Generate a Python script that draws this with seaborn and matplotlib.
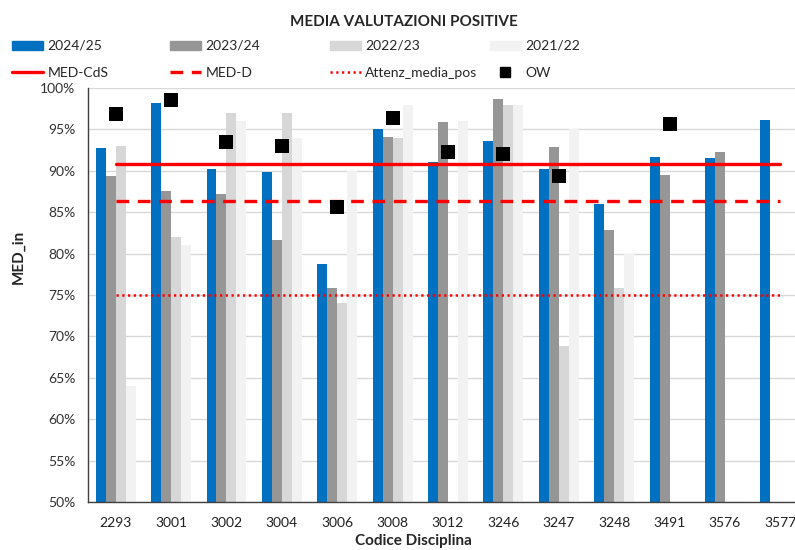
import numpy as np
import pandas as pd
import matplotlib
matplotlib.use("Agg")
import matplotlib.pyplot as plt
from matplotlib.lines import Line2D
from matplotlib.patches import Patch
import seaborn as sns

nan = np.nan
categories = ['2293', '3001', '3002', '3004', '3006', '3008', '3012',
              '3246', '3247', '3248', '3491', '3576', '3577']
series_names = ['2024/25', '2023/24', '2022/23', '2021/22']
s2425 = [92.8, 98.2, 90.2, 89.8, 78.7, 95.1, 91.1, 93.6, 90.2, 86.0, 91.7, 91.6, 96.1]
s2324 = [89.4, 87.6, 87.2, 81.6, 75.8, 94.1, 95.9, 98.7, 92.9, 82.8, 89.5, 92.3, nan]
s2223 = [93.0, 82.0, 97.0, 97.0, 74.0, 94.0, nan, 98.0, 68.9, 75.9, nan, nan, nan]
s2122 = [64.0, 81.0, 96.0, 94.0, 90.0, 98.0, 96.0, 98.0, 95.0, 80.0, nan, nan, nan]
ow = [96.8, 98.5, 93.5, 93.0, 85.6, 96.4, 92.3, 92.0, 89.4, nan, 95.7, nan, nan]
med_cds = 90.8
med_d = 86.3
attenz = 75.0
yticks = list(range(50, 101, 5))

colors = ['#0070C0', '#979696', '#D8D7D7', '#F2F2F2']

sns.set_style("white")
plt.rcParams['font.family'] = ['Lato', 'DejaVu Sans']

rows = []
for name, vals in zip(series_names, [s2425, s2324, s2223, s2122]):
    for c, v in zip(categories, vals):
        rows.append({'cat': c, 'val': v, 'series': name})
df = pd.DataFrame(rows).dropna()

fig = plt.figure(figsize=(7.95, 5.5), dpi=100)
W, H = 795, 550
ax = fig.add_axes([88 / W, 1 - 502 / H, (808 - 88) / W, (502 - 88) / H])

sns.barplot(data=df, x='cat', y='val', hue='series', order=categories,
            hue_order=series_names, palette=colors, width=0.72, gap=0,
            errorbar=None, saturation=1, linewidth=0, ax=ax, legend=False, zorder=2)

n = len(categories)
xs = np.arange(n)
sns.lineplot(x=xs, y=[med_cds] * n, color='#FF0000', lw=2.4, ax=ax, zorder=3)
sns.lineplot(x=xs, y=[med_d] * n, color='#FF0000', lw=2.4,
             linestyle=(0, (3.8, 2.6)), ax=ax, zorder=3)
sns.lineplot(x=xs, y=[attenz] * n, color='#FF0000', lw=1.8,
             linestyle=(0, (0.9, 1.4)), ax=ax, zorder=3)
sns.scatterplot(x=xs, y=ow, marker='s', s=115, color='black', linewidth=0,
                ax=ax, zorder=5)

ax.set_xlim(-0.5, n - 0.5)
ax.set_ylim(50, 100)
ax.set_yticks(yticks)
ax.set_yticklabels([f'{v}%' for v in yticks], fontsize=10, color='#303030')
ax.set_xticks(xs)
ax.set_xticklabels(categories, fontsize=10, color='#202020')
ax.set_xticks(np.arange(-0.5, n, 1), minor=True)
ax.tick_params(axis='x', which='major', length=0, pad=11)
ax.tick_params(axis='x', which='minor', length=5, width=1, color='#404040', direction='out')
ax.tick_params(axis='y', which='major', length=5, width=1, color='#404040', direction='out', pad=4)
ax.set_xlabel('')
ax.set_ylabel('')
ax.grid(axis='y', color='#D9D9D9', lw=1, zorder=0)
ax.set_axisbelow(True)
for s in ['top', 'right']:
    ax.spines[s].set_visible(False)
for s in ['left', 'bottom']:
    ax.spines[s].set_color('#404040')
    ax.spines[s].set_linewidth(1)

fig.text(404 / W, 1 - 22 / H, 'MEDIA VALUTAZIONI POSITIVE', ha='center', va='center',
         fontsize=11, fontweight='bold')
fig.text(18 / W, 1 - 257 / H, 'MED_in', rotation=90, ha='center', va='center',
         fontsize=11, fontweight='bold')
fig.text(413 / W, 1 - 541 / H, 'Codice Disciplina', ha='center', va='center',
         fontsize=11, fontweight='bold')

handles_cols = [
    [Patch(color=colors[0]), Line2D([], [], color='#FF0000', lw=2.4)],
    [Patch(color=colors[1]), Line2D([], [], color='#FF0000', lw=2.4, linestyle=(0, (3.8, 2.6)))],
    [Patch(color=colors[2]), Line2D([], [], color='#FF0000', lw=1.8, linestyle=(0, (0.9, 1.4)))],
    [Patch(color=colors[3]), Line2D([], [], color='black', marker='s', ms=7, lw=0)],
]
labels_cols = [
    [series_names[0], 'MED-CdS'],
    [series_names[1], 'MED-D'],
    [series_names[2], 'Attenz_media_pos'],
    [series_names[3], 'OW'],
]
for i, xpx in enumerate([12, 170, 330, 490]):
    fig.legend(handles_cols[i], labels_cols[i], loc='upper left',
               bbox_to_anchor=(xpx / W, 1 - 40 / H), frameon=False, fontsize=10,
               handlelength=2.2, handleheight=0.6, handletextpad=0.35,
               labelspacing=1.05, borderpad=0, borderaxespad=0)

fig.savefig('out.png', dpi=100)
